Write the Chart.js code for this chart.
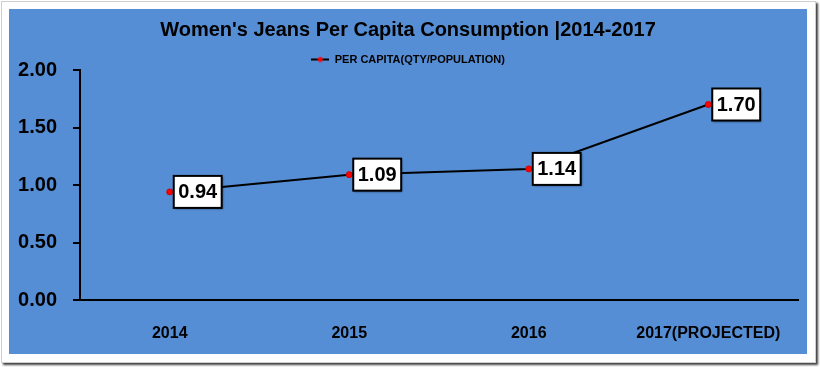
<!DOCTYPE html>
<html>
<head>
<meta charset="utf-8">
<script src="https://cdn.jsdelivr.net/npm/chart.js@4"></script>
<style>
  body { margin: 0; background: #fff; }
  #frame { position: absolute; left: 1px; top: 1px; width: 813px; height: 360px;
           border: 1px solid #cfcfcf; background: #fff; box-shadow: 2px 2px 2px rgba(0,0,0,0.75); }
  #wrap { position: absolute; left: 9px; top: 9px; width: 798px; height: 345px;
          background: #558ED5; }
</style>
</head>
<body>
<div id="frame"></div>
<div id="wrap"><canvas id="myChart"></canvas></div>
<script>
var years = ['2014', '2015', '2016', '2017(PROJECTED)'];
var perCapita = [0.94, 1.09, 1.14, 1.70];
var yTicks = [0, 0.5, 1, 1.5, 2];

var FONT = '"Liberation Sans", Arial, sans-serif';

// legend marker: line with red dot
function legendMarker() {
    var c = document.createElement('canvas');
    c.width = 18; c.height = 8;
    var g = c.getContext('2d');
    g.strokeStyle = '#000'; g.lineWidth = 2;
    g.beginPath(); g.moveTo(0, 4); g.lineTo(18, 4); g.stroke();
    g.fillStyle = '#ff0000';
    g.beginPath(); g.arc(9, 4, 2.5, 0, Math.PI * 2); g.fill();
    return c;
}

// legend adds a fixed 10px under itself, take some of it back
var tightLegend = {
    id: 'tightLegend',
    afterInit: function(chart) {
        var lg = chart.legend;
        if (!lg) return;
        var fit = lg.fit;
        lg.fit = function() { fit.call(this); this.height -= 5; };
    }
};

// boxed value labels right of each point
var boxLabels = {
    id: 'boxLabels',
    afterDatasetsDraw: function(chart) {
        var ctx = chart.ctx;
        var meta = chart.getDatasetMeta(0);
        ctx.save();
        ctx.font = 'bold 20px ' + FONT;
        ctx.textBaseline = 'middle';
        meta.data.forEach(function(pt, i) {
            var txt = perCapita[i].toFixed(2);
            var w = ctx.measureText(txt).width + 9;
            var h = 32;
            var x = pt.x + 4, y = pt.y - h / 2;
            ctx.shadowColor = 'rgba(0,0,0,0.45)';
            ctx.shadowOffsetX = 1; ctx.shadowOffsetY = 1; ctx.shadowBlur = 2;
            ctx.fillStyle = '#fff';
            ctx.fillRect(x, y, w, h);
            ctx.shadowColor = 'transparent';
            ctx.strokeStyle = '#000'; ctx.lineWidth = 2;
            ctx.strokeRect(x, y, w, h);
            ctx.fillStyle = '#000';
            ctx.fillText(txt, x + 4.5, y + h / 2 + 1);
        });
        ctx.restore();
    }
};

var ctx = document.getElementById('myChart').getContext('2d');
var myChart = new Chart(ctx, {
    type: 'line',
    data: {
        labels: years,
        datasets: [{
            label: 'PER CAPITA(QTY/POPULATION)',
            data: perCapita,
            borderColor: '#000',
            borderWidth: 2,
            pointRadius: 3,
            pointBackgroundColor: '#ff0000',
            pointBorderColor: '#cc0000',
            pointBorderWidth: 1,
            tension: 0
        }]
    },
    plugins: [tightLegend, boxLabels],
    options: {
        responsive: true,
        maintainAspectRatio: false,
        animation: false,
        layout: { padding: { left: 9, right: 9, top: 0, bottom: 0 } },
        plugins: {
            title: {
                display: true,
                text: "Women's Jeans Per Capita Consumption |2014-2017",
                color: '#000',
                font: { family: FONT, size: 20, weight: 'bold', lineHeight: 1 },
                padding: { top: 11, bottom: 10 }
            },
            legend: {
                display: true,
                labels: {
                    color: '#000',
                    font: { family: FONT, size: 11, weight: 'bold', lineHeight: 1 },
                    usePointStyle: true,
                    pointStyleWidth: 18,
                    boxHeight: 8,
                    padding: 4,
                    generateLabels: function(chart) {
                        return [{
                            text: chart.data.datasets[0].label,
                            pointStyle: legendMarker(),
                            fontColor: '#000',
                            datasetIndex: 0,
                            lineWidth: 0
                        }];
                    }
                }
            },
            tooltip: { enabled: false }
        },
        scales: {
            x: {
                offset: true,
                grid: { display: false, drawTicks: false },
                border: { display: true, color: '#000', width: 2 },
                ticks: {
                    color: '#000',
                    font: { family: FONT, size: 16, weight: 'bold' },
                    padding: 24,
                    maxRotation: 0
                },
                afterFit: function(scale) { scale.height = 54; }
            },
            y: {
                min: 0,
                max: 2,
                afterBuildTicks: function(scale) {
                    scale.ticks = yTicks.map(function(v) { return { value: v }; });
                },
                grid: { display: true, drawOnChartArea: false, drawTicks: true,
                        tickLength: 7, color: '#000', lineWidth: 2 },
                border: { display: true, color: '#000', width: 2 },
                ticks: {
                    color: '#000',
                    font: { family: FONT, size: 20, weight: 'bold' },
                    padding: 16,
                    callback: function(v) { return Number(v).toFixed(2); }
                },
                afterFit: function(scale) { scale.width = 62; }
            }
        }
    }
});
</script>
</body>
</html>
